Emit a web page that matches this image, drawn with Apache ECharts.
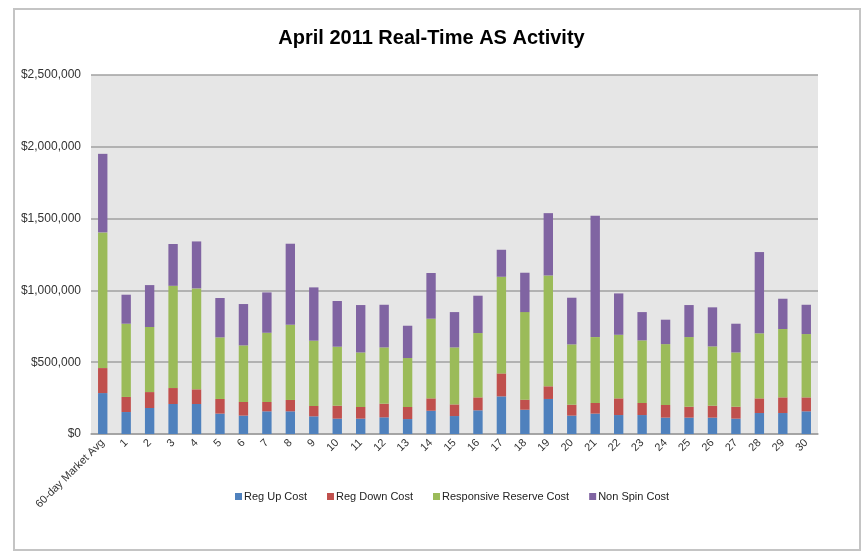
<!DOCTYPE html>
<html>
<head>
<meta charset="utf-8">
<title>April 2011 Real-Time AS Activity</title>
<script src="https://cdn.jsdelivr.net/npm/echarts@6/dist/echarts.min.js"></script>
<style>
body { margin: 0; background: #fff; }
#chart { width: 863px; height: 557px; }
</style>
</head>
<body>
<div id="chart"></div>
<script>
// category labels
var days = ['60-day Market Avg', '1', '2', '3', '4', '5', '6', '7', '8', '9', '10',
	'11', '12', '13', '14', '15', '16', '17', '18', '19', '20',
	'21', '22', '23', '24', '25', '26', '27', '28', '29', '30'];

// values, in thousands of dollars
var regUp = [285, 153, 181, 209, 209, 142, 128, 158, 158, 123, 107,
	107, 116, 104, 162, 125, 165, 262, 169, 244, 128,
	142, 132, 132, 114, 114, 114, 107, 146, 146, 158];
var regDown = [174, 105, 111, 111, 102, 102, 95, 65, 79, 72, 90,
	81, 95, 84, 86, 81, 90, 160, 70, 88, 76,
	74, 116, 84, 88, 76, 83, 83, 102, 109, 97];
var respReserve = [945, 510, 453, 712, 703, 429, 394, 482, 524, 455, 411,
	380, 392, 341, 555, 397, 448, 673, 610, 772, 420,
	459, 443, 436, 424, 485, 413, 378, 453, 476, 441];
var nonSpin = [547, 202, 292, 291, 327, 274, 288, 281, 564, 371, 318,
	330, 297, 225, 318, 246, 260, 188, 274, 434, 325,
	845, 288, 197, 170, 223, 272, 200, 566, 211, 204];

function k(arr) {
	return arr.map(function(v) { return v * 1000; });
}

function money(v) {
	return '$' + String(v).replace(/\B(?=(\d{3})+(?!\d))/g, ',');
}

var font = '"Liberation Sans", Arial, sans-serif';

var myChart = echarts.init(document.getElementById('chart'));
var option = {
	animation : false,
	textStyle : { fontFamily : font },
	color : [ '#4f81bd', '#c0504d', '#9bbb59', '#8064a2' ],
	title : {
		text : 'April 2011 Real-Time AS Activity',
		left : 'center',
		top : 23,
		textStyle : {
			fontSize : 20,
			fontWeight : 'bold',
			color : '#000',
			fontFamily : font
		}
	},
	graphic : [ {
		type : 'rect',
		shape : { x : 14, y : 9, width : 846, height : 541 },
		style : { fill : 'none', stroke : '#c4c4c4', lineWidth : 2 },
		silent : true,
		z : -1
	} ],
	legend : {
		top : 486,
		left : 230,
		itemWidth : 7,
		itemHeight : 7,
		itemGap : 20,
		icon : 'rect',
		textStyle : { fontSize : 11, color : '#222', padding : [0, 0, 0, -3] },
		data : [ 'Reg Up Cost', 'Reg Down Cost', 'Responsive Reserve Cost', 'Non Spin Cost' ]
	},
	grid : {
		left : 91,
		right : 45,
		top : 75,
		bottom : 123,
		show : true,
		backgroundColor : '#e6e6e6',
		borderWidth : 0
	},
	xAxis : {
		type : 'category',
		data : days,
		axisTick : { show : false },
		axisLine : { show : true, lineStyle : { color : '#a0a0a0', width : 1.5 } },
		axisLabel : {
			interval : 0,
			rotate : 45,
			fontSize : 11,
			color : '#333',
			margin : 7
		}
	},
	yAxis : {
		type : 'value',
		min : 0,
		max : 2500000,
		interval : 500000,
		axisLine : { show : false },
		axisTick : { show : false },
		splitLine : { lineStyle : { color : '#a0a0a0', width : 1.5 } },
		axisLabel : {
			fontSize : 12,
			color : '#333',
			margin : 10,
			formatter : money
		}
	},
	series : [
		{ name : 'Reg Up Cost', type : 'bar', stack : 'cost', barWidth : '40%', data : k(regUp) },
		{ name : 'Reg Down Cost', type : 'bar', stack : 'cost', data : k(regDown) },
		{ name : 'Responsive Reserve Cost', type : 'bar', stack : 'cost', data : k(respReserve) },
		{ name : 'Non Spin Cost', type : 'bar', stack : 'cost', data : k(nonSpin) }
	]
};
myChart.setOption(option);
</script>
</body>
</html>
